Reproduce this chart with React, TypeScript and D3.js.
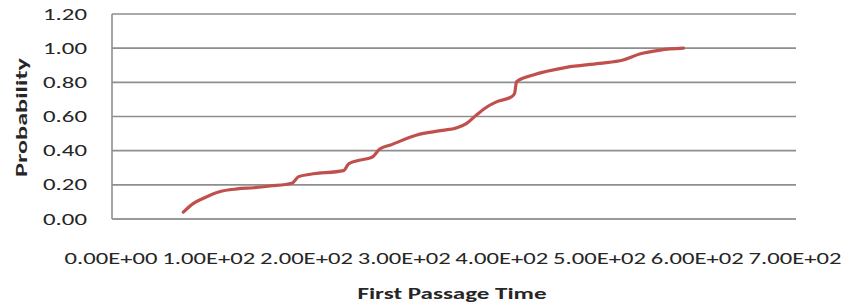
import * as d3 from 'd3'

// first passage time values
const TIMES = [
  73, 83, 93, 110, 128, 145, 162, 184, 191, 203, 237, 242, 250, 266, 274, 285,
  312, 336, 353, 363, 373, 384, 394, 409, 412, 414, 431, 465, 499, 523, 540, 561, 585
]
const PROBS = [
  0.04, 0.09, 0.12, 0.16, 0.176, 0.183, 0.193, 0.209, 0.248, 0.262, 0.283, 0.322, 0.34, 0.361, 0.41, 0.433,
  0.492, 0.517, 0.534, 0.56, 0.609, 0.657, 0.687, 0.716, 0.736, 0.804, 0.843, 0.888, 0.911, 0.931, 0.966, 0.989, 1.0
]

const Y_TICKS = [0, 0.2, 0.4, 0.6, 0.8, 1.0, 1.2]
const X_TICKS = [0, 100, 200, 300, 400, 500, 600, 700]
// the original chart prints 600 twice (rounding in the axis format)
const X_LABELS = ['0.00E+00', '1.00E+02', '2.00E+02', '3.00E+02', '4.00E+02', '5.00E+02', '6.00E+02', '7.00E+02']

const FONT = "Carlito, 'Liberation Sans', Arial, sans-serif"

export default function App() {
  const width = 844
  const height = 308
  const margin = { top: 14, right: 48, bottom: 89, left: 112 }

  const x = d3.scaleLinear().domain([0, 700]).range([margin.left, width - margin.right])
  const y = d3.scaleLinear().domain([0, 1.2]).range([height - margin.bottom, margin.top])

  const points: [number, number][] = TIMES.map((t, i) => [t, PROBS[i]])

  const line = d3.line<[number, number]>()
    .x(d => x(d[0]))
    .y(d => y(d[1]))
    .curve(d3.curveMonotoneX)

  return (
    <svg width={width} height={height} style={{ position: 'absolute', left: 0, top: 0, background: '#fff' }}>
      {/* gridlines */}
      {Y_TICKS.map(t => (
        <line
          key={`g-${t}`}
          x1={x(0)}
          x2={x(700)}
          y1={y(t)}
          y2={y(t)}
          stroke="#8e8e8e"
          strokeWidth={1.6}
        />
      ))}

      {/* left axis */}
      <line x1={x(0)} x2={x(0)} y1={y(1.2)} y2={y(0)} stroke="#8e8e8e" strokeWidth={1.6} />
      <line x1={x(0)} x2={x(700)} y1={y(0)} y2={y(0)} stroke="#9a9a9a" strokeWidth={2} />

      {/* y tick labels */}
      {Y_TICKS.map(t => (
        <text
          key={`yl-${t}`}
          x={87}
          y={y(t)}
          textAnchor="end"
          dominantBaseline="central"
          fontFamily={FONT}
          fontSize={17}
          fill="#262626"
          textLength={44}
          lengthAdjust="spacingAndGlyphs"
        >
          {t.toFixed(2)}
        </text>
      ))}

      {/* x tick labels */}
      {X_TICKS.map((t, i) => (
        <text
          key={`xl-${t}`}
          x={x(t) - 1}
          y={258}
          textAnchor="middle"
          dominantBaseline="central"
          fontFamily={FONT}
          fontSize={17}
          fill="#262626"
          textLength={93}
          lengthAdjust="spacingAndGlyphs"
        >
          {X_LABELS[i]}
        </text>
      ))}

      {/* axis titles */}
      <text
        transform={`translate(22, ${(y(0) + y(1.2)) / 2 + 1}) rotate(-90)`}
        textAnchor="middle"
        dominantBaseline="central"
        fontFamily={FONT}
        fontSize={15}
        fontWeight="bold"
        fill="#262626"
        textLength={119}
        lengthAdjust="spacingAndGlyphs"
      >
        Probability
      </text>
      <text
        x={452}
        y={293}
        textAnchor="middle"
        dominantBaseline="central"
        fontFamily={FONT}
        fontSize={16}
        fontWeight="bold"
        fill="#262626"
        textLength={189}
        lengthAdjust="spacingAndGlyphs"
      >
        First Passage Time
      </text>

      {/* cumulative curve */}
      <path
        d={line(points) ?? ''}
        fill="none"
        stroke="#c0504d"
        strokeWidth={3.2}
        strokeLinecap="round"
        strokeLinejoin="round"
      />
    </svg>
  )
}
